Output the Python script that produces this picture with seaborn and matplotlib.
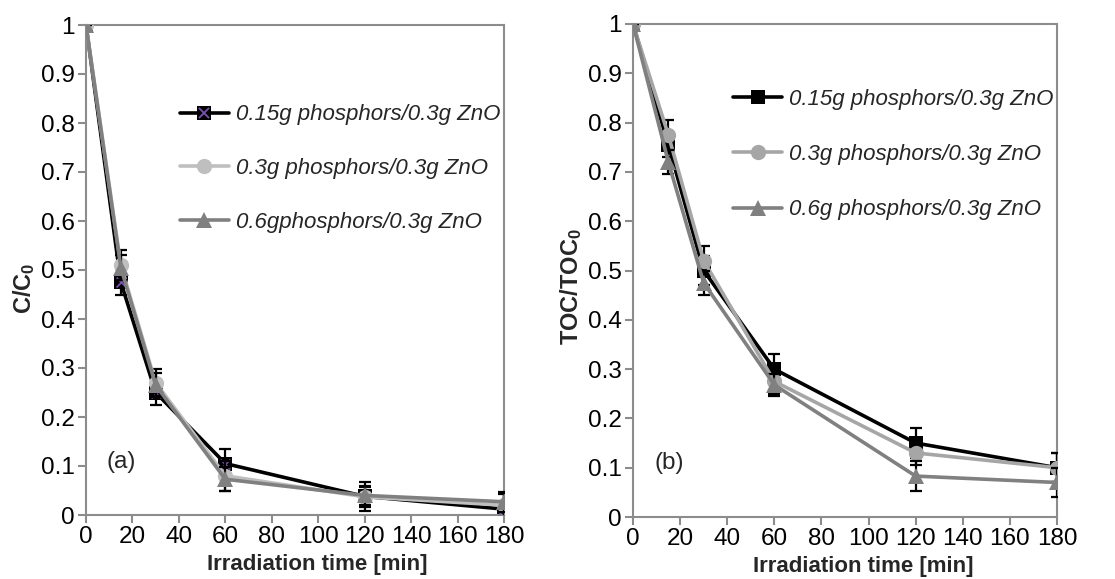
import numpy as np
import pandas as pd
import matplotlib
matplotlib.use("Agg")
import matplotlib.pyplot as plt
from matplotlib.lines import Line2D
from matplotlib.legend_handler import HandlerTuple
import seaborn as sns

# ---------------- data ----------------
time_min = [0, 15, 30, 60, 120, 180]

labels_a = ["0.15g phosphors/0.3g ZnO", "0.3g phosphors/0.3g ZnO", "0.6gphosphors/0.3g ZnO"]
labels_b = ["0.15g phosphors/0.3g ZnO", "0.3g phosphors/0.3g ZnO", "0.6g phosphors/0.3g ZnO"]

# panel (a): C/C0
a_s1 = [1.0, 0.475, 0.250, 0.105, 0.038, 0.012]
a_s2 = [1.0, 0.510, 0.270, 0.080, 0.037, 0.020]
a_s3 = [1.0, 0.505, 0.265, 0.073, 0.040, 0.027]
a_e1 = [0.0, 0.027, 0.025, 0.030, 0.030, 0.030]
a_e2 = [0.0, 0.030, 0.028, 0.030, 0.020, 0.025]
a_e3 = [0.0, 0.025, 0.025, 0.025, 0.020, 0.020]

# panel (b): TOC/TOC0
b_s1 = [1.0, 0.755, 0.500, 0.300, 0.150, 0.100]
b_s2 = [1.0, 0.775, 0.520, 0.275, 0.130, 0.100]
b_s3 = [1.0, 0.720, 0.475, 0.268, 0.083, 0.070]
b_e1 = [0.0, 0.025, 0.030, 0.030, 0.030, 0.030]
b_e2 = [0.0, 0.030, 0.030, 0.025, 0.025, 0.030]
b_e3 = [0.0, 0.025, 0.025, 0.023, 0.031, 0.030]

x_ticks = [0, 20, 40, 60, 80, 100, 120, 140, 160, 180]
y_ticks = [0, 0.1, 0.2, 0.3, 0.4, 0.5, 0.6, 0.7, 0.8, 0.9, 1]
y_ticklabels = ["0", "0.1", "0.2", "0.3", "0.4", "0.5", "0.6", "0.7", "0.8", "0.9", "1"]

# ---------------- style ----------------
sns.set_theme(style="white")
plt.rcParams["font.family"] = ["Liberation Sans", "DejaVu Sans"]
plt.rcParams["mathtext.fontset"] = "custom"
plt.rcParams["mathtext.rm"] = "Liberation Sans"
plt.rcParams["mathtext.bf"] = "Liberation Sans:bold"
plt.rcParams["mathtext.it"] = "Liberation Sans:italic"

SPINE = "#8c8c8c"
PURPLE = "#7a4fb0"
colors_a = ["#000000", "#bfbfbf", "#808080"]
colors_b = ["#000000", "#a6a6a6", "#808080"]
markers = ["s", "o", "^"]
msizes = [9.5, 11, 11]
TICK_FS = 17.5
LAB_FS = 16
LEG_FS = 16

fig = plt.figure(figsize=(11.15, 5.79), dpi=100)
ax_a = fig.add_axes([86 / 1115, 1 - 515 / 579, (504 - 86) / 1115, (515 - 25) / 579])
ax_b = fig.add_axes([633 / 1115, 1 - 517 / 579, (1057 - 633) / 1115, (517 - 24) / 579])


def draw_panel(ax, series, errs, colors, purple_x):
    for i, (vals, err) in enumerate(zip(series, errs)):
        ax.errorbar(time_min, vals, yerr=err, fmt="none", ecolor="black",
                    elinewidth=1.6, capsize=4, capthick=1.6, zorder=2 + i)
        df = pd.DataFrame({"t": time_min, "v": vals})
        sns.lineplot(data=df, x="t", y="v", ax=ax, color=colors[i], linewidth=2.6,
                     marker=markers[i], markersize=msizes[i], markeredgewidth=0,
                     legend=False, zorder=2.5 + i)
        if i == 0 and purple_x:
            sns.scatterplot(data=df, x="t", y="v", ax=ax, marker="x", color=PURPLE,
                            s=50, linewidth=1.3, legend=False, zorder=2.6)

    ax.set_xlim(0, 180)
    ax.set_ylim(0, 1)
    ax.set_xticks(x_ticks)
    ax.set_xticklabels([str(t) for t in x_ticks])
    ax.set_yticks(y_ticks)
    ax.set_yticklabels(y_ticklabels)
    ax.tick_params(axis="both", which="both", direction="out", length=6, width=1.5,
                   color=SPINE, labelsize=TICK_FS, labelcolor="black", pad=2,
                   bottom=True, left=True)
    for sp in ax.spines.values():
        sp.set_visible(True)
        sp.set_color(SPINE)
        sp.set_linewidth(1.5)

    handles = []
    for i in range(3):
        h = Line2D([], [], color=colors[i], linewidth=2.6, marker=markers[i],
                   markersize=msizes[i], markeredgewidth=0)
        if i == 0 and purple_x:
            hx = Line2D([], [], linestyle="none", marker="x", color=PURPLE,
                        markersize=7.5, markeredgewidth=1.3)
            handles.append((h, hx))
        else:
            handles.append(h)
    return handles


ha = draw_panel(ax_a, [a_s1, a_s2, a_s3], [a_e1, a_e2, a_e3], colors_a, True)
hb = draw_panel(ax_b, [b_s1, b_s2, b_s3], [b_e1, b_e2, b_e3], colors_b, False)

for ax, xpos in ((ax_a, 0.553), (ax_b, 0.542)):
    ax.set_xlabel("Irradiation time [min]", fontsize=LAB_FS, fontweight="bold", labelpad=4)
    ax.xaxis.label.set_x(xpos)

ax_a.set_ylabel(r"$\mathbf{C/C_0}$", fontsize=LAB_FS + 1, labelpad=3)
ax_a.yaxis.label.set_y(0.463)
ax_b.set_ylabel(r"$\mathbf{TOC/TOC_0}$", fontsize=LAB_FS + 1, labelpad=3)
ax_b.yaxis.label.set_y(0.467)

leg_kw = dict(frameon=False, borderpad=0, borderaxespad=0, handlelength=2.2,
              handletextpad=0.3, loc="upper left",
              prop={"style": "italic", "size": LEG_FS},
              handler_map={tuple: HandlerTuple(ndivide=1, pad=0)})
ax_a.legend(ha, labels_a, bbox_to_anchor=(0.225, 0.838), labelspacing=1.48, **leg_kw)
ax_b.legend(hb, labels_b, bbox_to_anchor=(0.236, 0.869), labelspacing=1.55, **leg_kw)

ax_a.text(0.048, 0.108, "(a)", transform=ax_a.transAxes, fontsize=TICK_FS, va="center", ha="left")
ax_b.text(0.05, 0.11, "(b)", transform=ax_b.transAxes, fontsize=TICK_FS, va="center", ha="left")

fig.savefig("out.png", dpi=100)
